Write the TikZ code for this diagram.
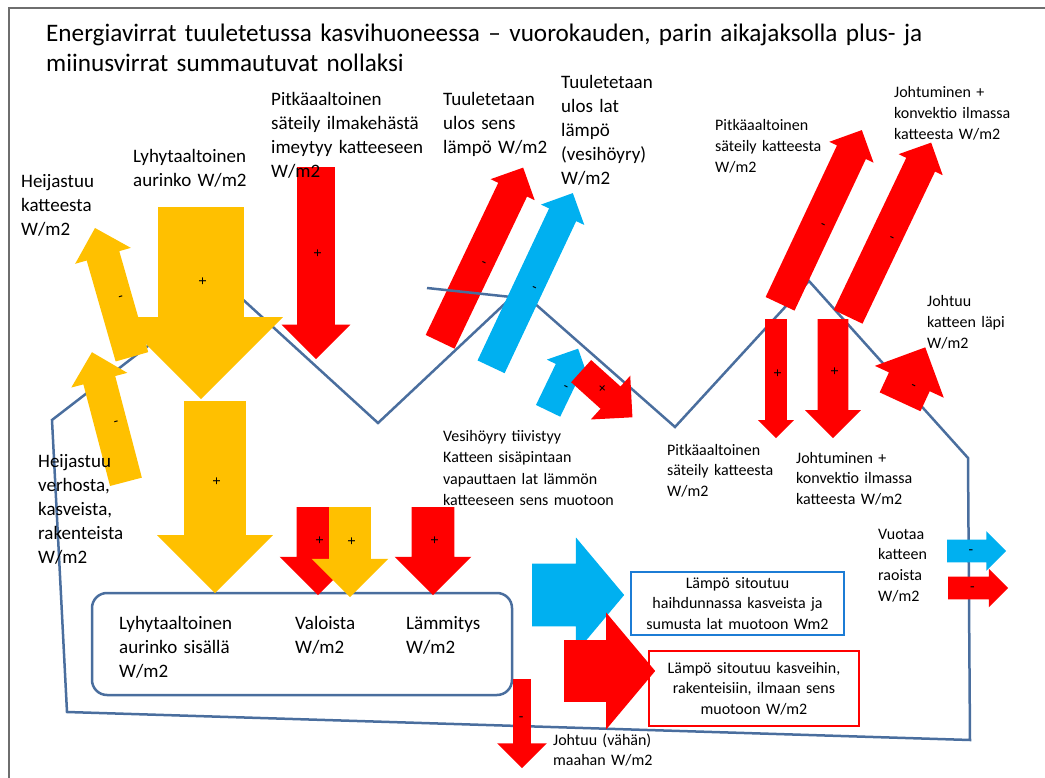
\documentclass[tikz,border=0pt]{standalone}
\usepackage{graphicx}
\usepackage{fontspec}
\setmainfont{Carlito}
\usetikzlibrary{shapes.arrows}

\definecolor{sun}{HTML}{FFC000}
\definecolor{hot}{HTML}{FF0000}
\definecolor{wet}{HTML}{00B0F0}
\definecolor{wall}{HTML}{4A6E9E}
\definecolor{boxblue}{HTML}{1C7CD5}
\definecolor{frame}{HTML}{6E6E6E}

\newcommand{\bigtxt}{\fontsize{19}{24}\selectfont}
\newcommand{\smalltxt}{\fontsize{16}{20.7}\selectfont}
\newcommand{\upmin}{\rotatebox{-90}{-}}

\tikzset{
    every node/.style={font=\bigtxt},
    lab/.style={anchor=base west, inner sep=0pt, align=left, text width=260pt},
    slab/.style={lab, font=\smalltxt},
    flow/.style={single arrow, draw=none, inner sep=0pt, anchor=tail,
                 text height=6.5pt, text depth=-6.5pt,
                 font=\fontsize{15}{15}\selectfont},
    sunflow/.style={flow, fill=sun},
    hotflow/.style={flow, fill=hot},
    wetflow/.style={flow, fill=wet},
    % length, half shaft, head extend
    dims/.style n args={3}{minimum height=#1pt, inner ysep=#2pt,
                           single arrow head extend=#3pt},
    wall line/.style={draw=wall, line width=2.5pt, line join=miter}
}

\begin{document}
\begin{tikzpicture}[x=1pt, y=-1pt]
  \useasboundingbox (0,0) rectangle (1045,778);
  \draw[frame, line width=1.8pt] (9,778) -- (9,8) -- (1045,8);

  % title
  \node[lab, text width=990pt, font=\fontsize{25.2}{30}\selectfont] (title) at (46,42)
    {Energiavirrat tuuletetussa kasvihuoneessa – vuorokauden, parin aikajaksolla plus- ja\\
     miinusvirrat summautuvat nollaksi};

  % greenhouse
  \draw[wall line] (67,712) -- (52,420) -- (227,285) -- (378,423) -- (512,297)
    -- (533,302) -- (675,427) -- (809,281) -- (968,458) -- (970,740) -- cycle;
  \node[draw=wall, line width=2.5pt, rounded corners=15pt,
        minimum width=420pt, minimum height=102pt] (inside) at (302,644) {};

  % reflected and solar
  \node[sunflow, dims={134}{13.5}{12}, rotate=106] (refroof) at (132,357) {\upmin};
  \node[sunflow, dims={134}{13}{12.5}, rotate=104.7] (refin) at (126,482) {\upmin};
  \node[sunflow, dims={192}{39.5}{39}, rotate=-90] (sun) at (201,207) {+};
  \node[sunflow, dims={192}{27.5}{27}, rotate=-90] (sunin) at (215,401) {+};

  % sky and ventilation
  \node[hotflow, dims={192}{15.5}{15.5}, rotate=-90] (sky) at (316,167) {+};
  \node[hotflow, dims={193}{12.5}{8.5}, rotate=64.5] (ventsens) at (440,342) {\upmin};
  \draw[wall line] (427,288) -- (530,299);
  \node[wetflow, dims={192}{11.5}{9}, rotate=64.8] (ventlat) at (491,367) {\upmin};

  % condensation
  \node[wetflow, dims={69}{10}{10}, rotate=64.2] (cond) at (548,411) {\upmin};
  \node[hotflow, dims={69}{11.5}{14.5}, rotate=-42] (condheat) at (581,371) {+};

  % cover
  \node[hotflow, dims={119}{7.5}{7}, rotate=-90] (coverrad) at (776,319) {+};
  \node[hotflow, dims={119}{12}{12.5}, rotate=-90] (coverconv) at (833,319) {+};
  \node[hotflow, dims={192}{12.5}{8.5}, rotate=64.8] (outrad) at (780,304) {\upmin};
  \node[hotflow, dims={193}{12.5}{8.5}, rotate=64.5] (outconv) at (848,317) {\upmin};
  \node[hotflow, dims={60}{19}{15.5}, rotate=65.2] (through) at (900,402) {\upmin};

  % lamps and heating
  \node[hotflow, dims={88}{18}{17}, rotate=-90] (lamp) at (318,507) {+};
  \node[sunflow, dims={90}{17.5}{17.5}, rotate=-90] (lamplight) at (350,507) {+};
  \node[hotflow, dims={88}{18}{17}, rotate=-90] (heat) at (433,507) {+};

  % storage, ground, leaks
  \node[wetflow, dims={92}{28}{26}, single arrow tip angle=100] (latent) at (532,595) {};
  \node[hotflow, dims={91}{27.5}{27.5}, single arrow tip angle=100] (sensible) at (564,671) {};
  \node[hotflow, dims={89}{5.5}{16}, rotate=-90] (ground) at (522,679) {\rotatebox{90}{-}};
  \node[wetflow, dims={59}{8}{8.5}] (leakwet) at (947,551) {-};
  \node[hotflow, dims={60}{8}{8}] (leakhot) at (948,588) {-};

  \node[draw=boxblue, line width=2pt, minimum width=213pt, minimum height=63pt,
        text width=205pt, align=center, inner sep=0pt, font=\smalltxt] (latbox) at (737.5,603.5)
    {Lämpö sitoutuu\\haihdunnassa kasveista ja\\sumusta lat muotoon Wm2};
  \node[draw=hot, line width=2pt, minimum width=210pt, minimum height=75pt,
        text width=202pt, align=center, inner sep=0pt, font=\smalltxt] (sensbox) at (754,688.5)
    {Lämpö sitoutuu kasveihin,\\rakenteisiin, ilmaan sens\\muotoon W/m2};

  % labels
  \node[lab] (lrefroof) at (21,188) {Heijastuu\\katteesta\\W/m2};
  \node[lab] (lsun) at (133,163) {Lyhytaaltoinen\\aurinko W/m2};
  \node[lab] (lsky) at (271,106) {Pitkäaaltoinen\\säteily ilmakehästä\\imeytyy katteeseen\\W/m2};
  \node[lab] (lventsens) at (443,106) {Tuuletetaan\\ulos sens\\lämpö W/m2};
  \node[lab] (lventlat) at (561,89) {Tuuletetaan\\ulos lat\\lämpö\\(vesihöyry)\\W/m2};
  \node[lab] (lrefin) at (38,467) {Heijastuu\\verhosta,\\kasveista,\\rakenteista\\W/m2};
  \node[lab] (lsunin) at (119,629) {Lyhytaaltoinen\\aurinko sisällä\\W/m2};
  \node[lab] (llamp) at (295,629) {Valoista\\W/m2};
  \node[lab] (lheat) at (406,629) {Lämmitys\\W/m2};
  \node[slab] (loutrad) at (715,131) {Pitkäaaltoinen\\säteily katteesta\\W/m2};
  \node[slab] (loutconv) at (894,98) {Johtuminen +\\konvektio ilmassa\\katteesta W/m2};
  \node[slab] (lthrough) at (927,307) {Johtuu\\katteen läpi\\W/m2};
  \node[slab, font=\fontsize{16}{21.5}\selectfont] (lcond) at (443,441)
    {Vesihöyry tiivistyy\\Katteen sisäpintaan\\vapauttaen lat lämmön\\katteeseen sens muotoon};
  \node[slab] (lcoverrad) at (667,455) {Pitkäaaltoinen\\säteily katteesta\\W/m2};
  \node[slab] (lcoverconv) at (796,463) {Johtuminen +\\konvektio ilmassa\\katteesta W/m2};
  \node[slab] (lleak) at (878,539) {Vuotaa\\katteen\\raoista\\W/m2};
  \node[slab] (lground) at (553,745) {Johtuu (vähän)\\maahan W/m2};
\end{tikzpicture}
\end{document}
